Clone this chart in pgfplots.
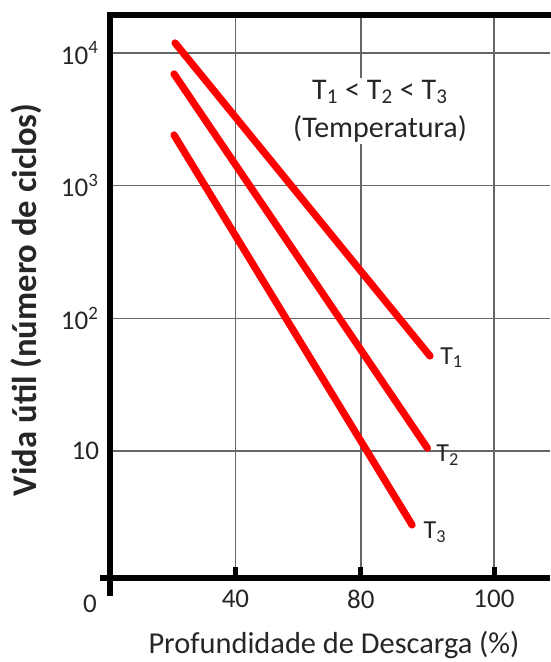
\documentclass[border=0pt]{standalone}
\usepackage{pgfplots}
\pgfplotsset{compat=1.18}
\usepackage{fontspec}
\setmainfont{Carlito}

\begin{document}
\begin{tikzpicture}
\begin{axis}[name=ax, scale only axis, width=220pt, height=281.5pt,
  xmin=0, xmax=3.4375,
  ymode=log, ymin=1.104, ymax=19320,
  clip=false,
  axis line style={draw=none},
  xtick={0.98,1.96,3.0}, xticklabels={40,80,100},
  ytick={10,100,1000,10000},
  yticklabels={10,10\textsuperscript{2},10\textsuperscript{3},10\textsuperscript{4}},
  yminorticks=false,
  grid=major, major grid style={black!60, line width=0.7pt},
  xtick pos=bottom, tick align=inside, major tick length=5.5pt,
  xtick style={black, line width=2.5pt}, ytick style={draw=none},
  ticklabel style={font=\fontsize{13.5}{15}\selectfont, text=black!85},
  xticklabel style={yshift=-2.5pt},
  yticklabel style={xshift=-2pt},
  xlabel={Profundidade de Descarga (\%)},
  xlabel style={at={(axis description cs:0.509,-0.119)}, anchor=center,
    font=\fontsize{15.2}{17}\selectfont, text=black!85},
  ylabel={Vida útil (número de ciclos)},
  ylabel style={at={(axis description cs:-0.191,0.494)}, anchor=center,
    font=\fontsize{17.3}{19}\selectfont\bfseries, text=black!85},
  ]

% frame
\draw[line width=3pt, line cap=rect, line join=miter]
  (rel axis cs:1,1) -- (rel axis cs:0,1) -- (rel axis cs:0,-0.027);
\draw[line width=3.3pt] (rel axis cs:-0.023,0) -- (rel axis cs:1,0);
\node[font=\fontsize{13.5}{15}\selectfont, text=black!85]
  at (rel axis cs:0,0) [xshift=-10pt, yshift=-13pt] {0};

\addplot[red, line width=3.6pt, line cap=round] coordinates {(0.508,11900) (2.50,52)};
\addplot[red, line width=3.6pt, line cap=round] coordinates {(0.50,6950) (2.48,10.5)};
\addplot[red, line width=3.6pt, line cap=round] coordinates {(0.50,2410) (2.36,2.77)};

\node[align=center, fill=white, inner sep=1pt, font=\fontsize{15}{19}\selectfont, text=black!85]
  at (axis cs:2.11,3660) {T\textsubscript{1} < T\textsubscript{2} < T\textsubscript{3}\\(Temperatura)};
\node[font=\fontsize{13}{15}\selectfont, text=black!85] at (axis cs:2.67,50.4) {T\textsubscript{1}};
\node[font=\fontsize{13}{15}\selectfont, text=black!85] at (axis cs:2.64,9.35) {T\textsubscript{2}};
\node[font=\fontsize{13}{15}\selectfont, text=black!85] at (axis cs:2.54,2.45) {T\textsubscript{3}};
\end{axis}
\pgfresetboundingbox
\path ([shift={(-55pt,-42pt)}]ax.south west) rectangle ([shift={(0pt,7.5pt)}]ax.north east);
\end{tikzpicture}
\end{document}
